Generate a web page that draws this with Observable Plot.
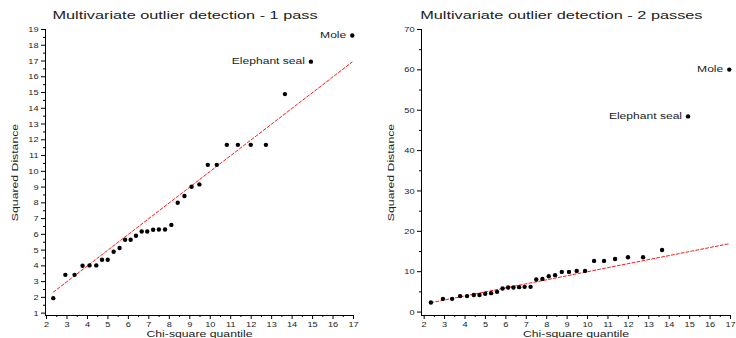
<!DOCTYPE html>
<html><head><meta charset="utf-8">
<script src="https://cdn.jsdelivr.net/npm/d3@7"></script>
<script src="https://cdn.jsdelivr.net/npm/@observablehq/plot@0.6"></script>
<style>
html,body{margin:0;padding:0;background:#fff;}
#wrap{display:flex;width:736px;height:338px;overflow:hidden;}
#wrap svg{flex:none;}
</style></head><body><div id="wrap"></div>
<script>
// ---- data ----
const quantiles = [2.33, 2.92, 3.37, 3.76, 4.10, 4.43, 4.71, 4.99, 5.28, 5.57, 5.84, 6.11, 6.37, 6.65, 6.92, 7.21,
                   7.49, 7.79, 8.10, 8.41, 8.74, 9.09, 9.47, 9.88, 10.32, 10.81, 11.35, 11.98, 12.72, 13.65, 14.92, 16.94];
const distPass1 = [1.95, 3.43, 3.43, 4.01, 4.03, 4.03, 4.39, 4.39, 4.90, 5.13, 5.66, 5.66, 5.91, 6.18, 6.18, 6.29,
                   6.31, 6.31, 6.60, 8.01, 8.43, 9.02, 9.17, 10.41, 10.41, 11.68, 11.68, 11.68, 11.68, 14.90, 16.96, 18.62];
const distPass2 = [2.37, 3.28, 3.28, 3.95, 3.95, 4.22, 4.24, 4.52, 4.69, 5.01, 5.83, 6.07, 6.07, 6.17, 6.25, 6.25,
                   8.05, 8.22, 8.89, 9.14, 9.95, 9.95, 10.2, 10.2, 12.67, 12.67, 13.16, 13.58, 13.58, 15.38, 48.47, 60.07];
const pointNames = ["", "", "", "", "", "", "", "", "", "", "", "", "", "", "", "",
                    "", "", "", "", "", "", "", "", "", "", "", "", "", "", "Elephant seal", "Mole"];
const refLineX = [2.33, 16.93];
const refLineY = [2.33, 16.93];
const titles = ["Multivariate outlier detection - 1 pass", "Multivariate outlier detection - 2 passes"];
const xLabel = "Chi-square quantile";
const yLabel = "Squared Distance";
const xTicks = [2, 3, 4, 5, 6, 7, 8, 9, 10, 11, 12, 13, 14, 15, 16, 17];
const yTicks1 = [1, 2, 3, 4, 5, 6, 7, 8, 9, 10, 11, 12, 13, 14, 15, 16, 17, 18, 19];
const yTicks2 = [0, 10, 20, 30, 40, 50, 60, 70];

const xMinor = d3.range(2.5, 17, 1);
const yMinor1 = d3.range(1.5, 19, 1);
const yMinor2 = d3.range(5, 70, 10);

const FONT = "'Liberation Sans', Arial, Helvetica, sans-serif";
const stretchBySize = {11: 1.48, 9: 1.36, 8: 1.15, 8.5: 1.42};

function panel({dist, yTicks, yMinor, xDomain, yDomain, marginLeft, marginRight, title, titleX}) {
  const rows = quantiles.map((q, i) => ({q, d: dist[i], name: pointNames[i]}));
  const refRows = refLineX.map((x, i) => ({x, y: refLineY[i]}));
  return Plot.plot({
    width: 368, height: 338,
    marginLeft, marginRight, marginTop: 29, marginBottom: 23,
    x: {domain: xDomain},
    y: {domain: yDomain},
    style: {fontFamily: FONT, color: "#222", background: "#fff", overflow: "visible"},
    marks: [
      Plot.axisX({ticks: xTicks, tickSize: 4, tickPadding: 2, fontSize: 8, label: null, tickFormat: d => String(d), stroke: "#000", fill: "#222"}),
      Plot.axisX({ticks: xMinor, tickSize: 2, label: null, tickFormat: () => "", stroke: "#000"}),
      Plot.axisY({ticks: yTicks, tickSize: 4, tickPadding: 3, fontSize: 8, label: null, tickFormat: d => String(d), stroke: "#000", fill: "#222"}),
      Plot.axisY({ticks: yMinor, tickSize: 2, label: null, tickFormat: () => "", stroke: "#000"}),
      Plot.ruleX([xDomain[0]], {stroke: "#000", strokeWidth: 1}),
      Plot.ruleY([yDomain[0]], {stroke: "#000", strokeWidth: 1}),
      Plot.line(refRows, {x: "x", y: "y", stroke: "#ff1a1a", strokeWidth: 1, strokeDasharray: "3,2"}),
      Plot.dot(rows, {x: "q", y: "d", r: 2.2, fill: "#000", stroke: null}),
      Plot.text(rows.filter(r => r.name), {x: "q", y: "d", text: "name", textAnchor: "end", lineAnchor: "middle", dx: -6, fontSize: 8.5, fill: "#222"}),
      Plot.text([title], {frameAnchor: "top-left", dx: titleX - marginLeft, dy: -14.5, textAnchor: "middle", lineAnchor: "middle", fontSize: 11, fill: "#222"}),
      Plot.text([xLabel], {frameAnchor: "bottom", dy: 18.5, textAnchor: "middle", lineAnchor: "middle", fontSize: 9, fill: "#222"}),
      Plot.text([yLabel], {frameAnchor: "left", dx: -28, rotate: -90, textAnchor: "middle", lineAnchor: "bottom", fontSize: 9, fill: "#222"})
    ]
  });
}

function stretch(svg) {
  svg.querySelectorAll("text").forEach(t => {
    if (!t.textContent) return;
    const fs = parseFloat(getComputedStyle(t).fontSize);
    const f = stretchBySize[fs];
    if (!f) return;
    const len = t.getComputedTextLength();
    t.setAttribute("textLength", (len * f).toFixed(2));
    t.setAttribute("lengthAdjust", "spacingAndGlyphs");
  });
}

const wrap = document.getElementById("wrap");
const left = panel({dist: distPass1, yTicks: yTicks1, yMinor: yMinor1, xDomain: [1.95, 17], yDomain: [0.85, 19],
                    marginLeft: 45, marginRight: 15, title: titles[0], titleX: 184.5});
const right = panel({dist: distPass2, yTicks: yTicks2, yMinor: yMinor2, xDomain: [1.87, 17], yDomain: [-0.85, 70],
                     marginLeft: 53, marginRight: 6, title: titles[1], titleX: 192.8});
wrap.appendChild(left);
wrap.appendChild(right);
stretch(left);
stretch(right);
</script>
</body></html>
